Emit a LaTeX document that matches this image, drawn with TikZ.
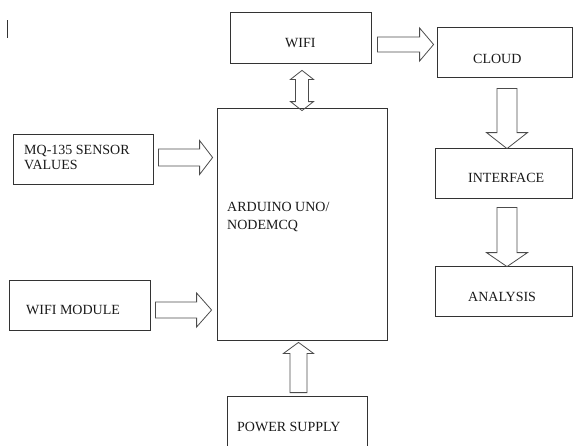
\documentclass[tikz,border=0pt]{standalone}
\usepackage{fontspec}
\setmainfont{Liberation Serif}
\usetikzlibrary{calc}
\usetikzlibrary{positioning}
\tikzset{box/.style={draw=black!80,line width=0.8pt,inner sep=0pt}}
\tikzset{lbl/.style={anchor=base west,inner sep=0pt,text=black!90,font=\fontsize{14}{15.5}\selectfont}}
\tikzset{blk/.style={draw=black!70,line width=0.8pt,line join=miter}}

% hollow block arrow: shaft half width, head half width, head length, from, to
\newcommand{\blockarrow}[5]{%
  \coordinate (hb) at ($(#5)!#3pt!(#4)$);
  \draw[blk] ($(#4)!#1pt!90:(#5)$) -- ($(hb)!#1pt!-90:(#4)$) -- ($(hb)!#2pt!-90:(#4)$) -- (#5)
    -- ($(hb)!#2pt!90:(#4)$) -- ($(hb)!#1pt!90:(#4)$) -- ($(#4)!#1pt!-90:(#5)$) -- cycle;
}
% same, with a head at both ends
\newcommand{\dblarrow}[5]{%
  \coordinate (hb1) at ($(#4)!#3pt!(#5)$);
  \coordinate (hb2) at ($(#5)!#3pt!(#4)$);
  \draw[blk] (#4) -- ($(hb1)!#2pt!90:(#5)$) -- ($(hb1)!#1pt!90:(#5)$) -- ($(hb2)!#1pt!-90:(#4)$)
    -- ($(hb2)!#2pt!-90:(#4)$) -- (#5) -- ($(hb2)!#2pt!90:(#4)$) -- ($(hb2)!#1pt!90:(#4)$)
    -- ($(hb1)!#1pt!-90:(#5)$) -- ($(hb1)!#2pt!-90:(#5)$) -- cycle;
}

\begin{document}
\begin{tikzpicture}[x=1pt,y=-1pt]
\clip (0,0) rectangle (573,445);

\foreach \n/\x/\y/\w/\h in {wifi/300.5/37.5/141/51, cloud/504.5/52/135/50,
    iface/503.5/173/137/50, anal/503.5/291/137/50, ard/302/224/170/232,
    mq/83/159/140/50, wmod/79.5/305/141/50, pwr/297/423/140/54} {
	\node[box,minimum width=\w,minimum height=\h] (\n) at (\x,\y) {};
	}

\foreach \n/\x/\y/\t in {wifi/285/47.7/WIFI, cloud/473/63/CLOUD,
    iface/468/182.5/INTERFACE, anal/468/301.5/ANALYSIS,
    wmod/26/314/WIFI MODULE, pwr/237/431.5/POWER SUPPLY} {
	\node[lbl] (\n-t) at (\x,\y) {\t};
	}
\node[lbl,align=left] (mq-t) at (24,169.5) {MQ-135 SENSOR\\VALUES};
\node[lbl,align=left,font=\fontsize{14}{18}\selectfont] (ard-t) at (227,229) {ARDUINO UNO/\\NODEMCQ};

\draw[black!80,line width=0.8pt] (7,20) -- (7,38);

\coordinate (mq-a) at ($(mq.east)+(5,-1.5)$);
\coordinate (mq-b) at ($(ard.west |- mq-a)+(-4,0)$);
\blockarrow{8.5}{17}{13}{mq-a}{mq-b}

\coordinate (wm-a) at ($(wmod.east)+(5,5)$);
\coordinate (wm-b) at ($(ard.west |- wm-a)+(-5,0)$);
\blockarrow{8}{17}{15}{wm-a}{wm-b}

\coordinate (wf-a) at ($(wifi.south)+(1.5,7)$);
\coordinate (wf-b) at ($(wf-a |- ard.north)+(0,3)$);
\dblarrow{6.5}{11.5}{9}{wf-a}{wf-b}

\coordinate (cl-a) at ($(wifi.east)+(6,7)$);
\coordinate (cl-b) at ($(cloud.west |- cl-a)+(-3,0)$);
\blockarrow{7.5}{16.5}{14}{cl-a}{cl-b}

\coordinate (if-a) at ($(cloud.south)+(2.5,11)$);
\coordinate (if-b) at ($(if-a |- iface.north)+(0,1)$);
\blockarrow{10}{20.5}{16}{if-a}{if-b}

\coordinate (an-a) at ($(iface.south)+(3.5,9)$);
\coordinate (an-b) at ($(an-a |- anal.north)+(0,1)$);
\blockarrow{10}{20.5}{14}{an-a}{an-b}

\coordinate (pw-a) at ($(pwr.north)+(1.5,-3)$);
\coordinate (pw-b) at ($(pw-a |- ard.south)+(0,2)$);
\blockarrow{8.5}{15}{11}{pw-a}{pw-b}
\end{tikzpicture}
\end{document}
